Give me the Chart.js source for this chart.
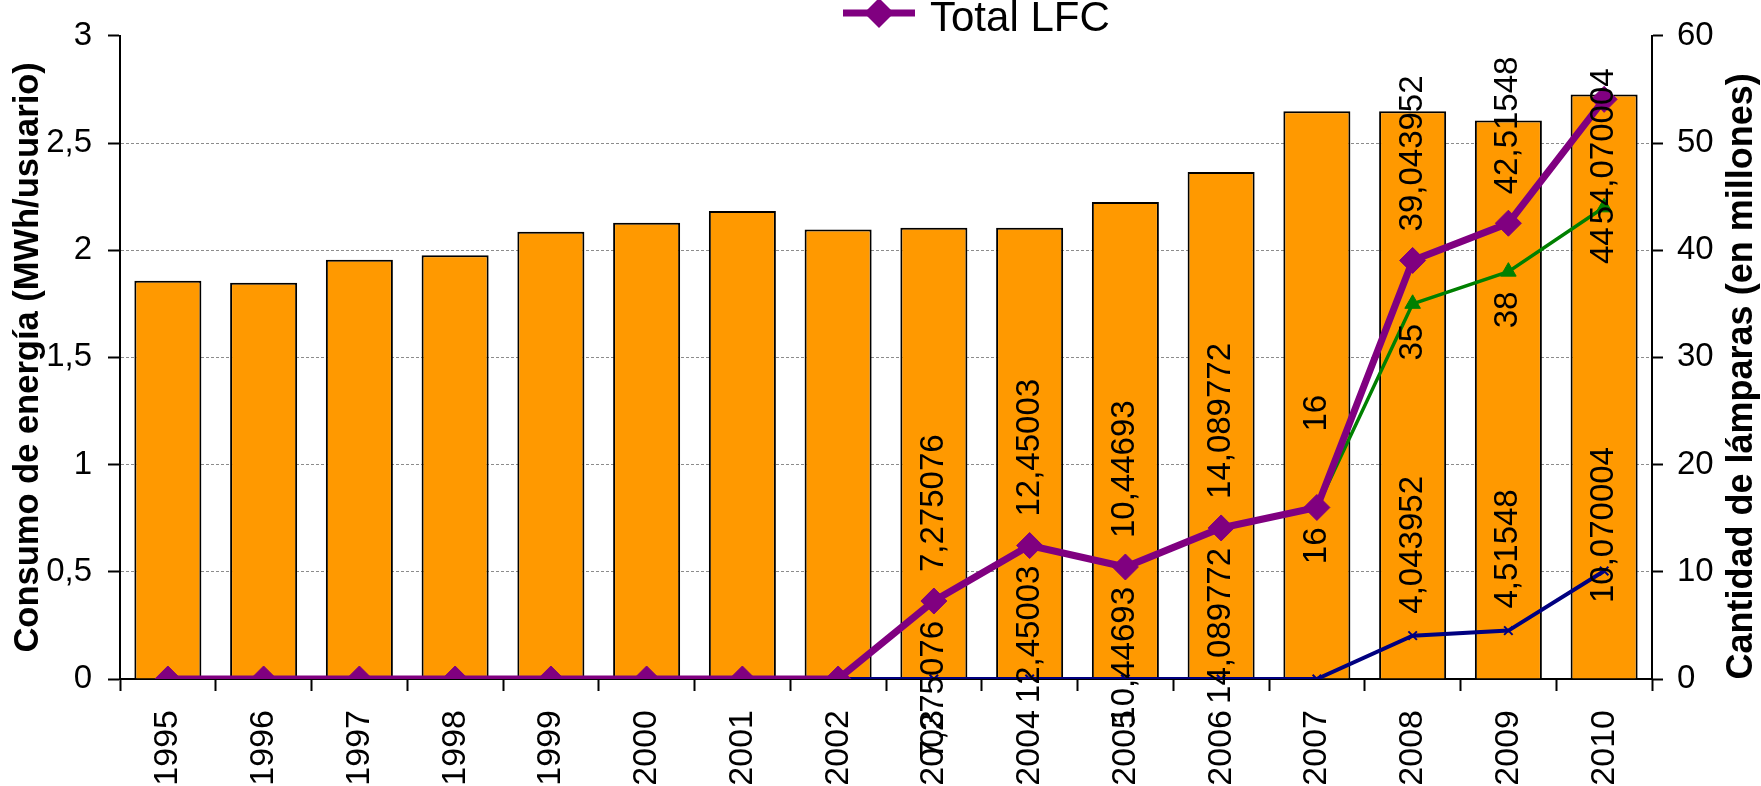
<!DOCTYPE html>
<html lang="es">
<head>
<meta charset="utf-8">
<title>Consumo de energía y lámparas LFC</title>
<script src="https://cdn.jsdelivr.net/npm/chart.js@4.4.1/dist/chart.umd.min.js"></script>
<style>
  html, body { margin: 0; padding: 0; background: #ffffff; }
  canvas { display: block; }
</style>
</head>
<body>
<canvas id="chart" width="1761" height="786"></canvas>
<script>
// Years on the category axis
const years = ['1995', '1996', '1997', '1998', '1999', '2000', '2001', '2002',
               '2003', '2004', '2005', '2006', '2007', '2008', '2009', '2010'];

// Energy consumption per user (MWh/usuario), left axis
const consumoMWh = [1.858, 1.848, 1.956, 1.976, 2.086, 2.128, 2.183, 2.096,
                    2.105, 2.105, 2.225, 2.365, 2.648, 2.648, 2.605, 2.726];

// Compact fluorescent lamps (millions), right axis
const lfcTotal    = [0, 0, 0, 0, 0, 0, 0, 0,
                     7.275076, 12.45003, 10.44693, 14.089772, 16, 39.043952, 42.51548, 54.070004];
const lfcMercado  = [0, 0, 0, 0, 0, 0, 0, 0,
                     7.275076, 12.45003, 10.44693, 14.089772, 16, 35, 38, 44];
const lfcPrograma = [0, 0, 0, 0, 0, 0, 0, 0,
                     0, 0, 0, 0, 0, 4.043952, 4.51548, 10.070004];

// Tick values of both value axes
const consumoTicks  = [0, 0.5, 1, 1.5, 2, 2.5, 3];
const lamparasTicks = [0, 10, 20, 30, 40, 50, 60];

const FONT = '"Liberation Sans", Arial, Helvetica, sans-serif';
Chart.defaults.font.family = FONT;
Chart.defaults.color = '#000000';

// Decimal comma formatting
const fmtES = v => String(v).replace('.', ',');

// Rotated value labels next to the line points
const valueLabels = {
  id: 'valueLabels',
  afterDatasetsDraw(chart, args, opts) {
    const ctx = chart.ctx;
    ctx.save();
    ctx.font = opts.size + 'px ' + FONT;
    ctx.fillStyle = opts.color;
    ctx.textAlign = 'left';
    ctx.textBaseline = 'middle';
    chart.data.datasets.forEach((ds, di) => {
      const cfg = ds.valueLabel;
      if (!cfg) return;
      const meta = chart.getDatasetMeta(di);
      meta.data.forEach((pt, i) => {
        const v = ds.data[i];
        if (!v) return;
        const text = fmtES(v);
        const w = ctx.measureText(text).width;
        let start = cfg.side === 'above' ? pt.y - cfg.gap : pt.y + cfg.gap + w;
        const key = chart.data.labels[i];
        if (cfg.shift && cfg.shift[key]) start += cfg.shift[key];
        ctx.save();
        ctx.translate(pt.x, start);
        ctx.rotate(-Math.PI / 2);
        ctx.fillText(text, 0, 0);
        ctx.restore();
      });
    });
    ctx.restore();
  }
};

// Single legend entry for the total series, plus the right axis title
const decorations = {
  id: 'decorations',
  afterDraw(chart, args, opts) {
    const ctx = chart.ctx;
    const ds = chart.data.datasets[opts.legend.datasetIndex];
    const lg = opts.legend;
    ctx.save();
    // legend line
    ctx.strokeStyle = ds.borderColor;
    ctx.lineWidth = ds.borderWidth;
    ctx.beginPath();
    ctx.moveTo(lg.x, lg.y);
    ctx.lineTo(lg.x + lg.lineLength, lg.y);
    ctx.stroke();
    // legend diamond
    const cx = lg.x + lg.lineLength / 2, r = lg.markerRadius;
    ctx.fillStyle = ds.pointBackgroundColor;
    ctx.beginPath();
    ctx.moveTo(cx, lg.y - r);
    ctx.lineTo(cx + r, lg.y);
    ctx.lineTo(cx, lg.y + r);
    ctx.lineTo(cx - r, lg.y);
    ctx.closePath();
    ctx.fill();
    // legend text
    ctx.fillStyle = '#000000';
    ctx.font = lg.size + 'px ' + FONT;
    ctx.textAlign = 'left';
    ctx.textBaseline = 'alphabetic';
    ctx.fillText(ds.label, lg.x + lg.lineLength + lg.textGap, lg.baseline);

    // right axis title, reading upwards
    const t = opts.rightTitle;
    const area = chart.chartArea;
    ctx.font = 'bold ' + t.size + 'px ' + FONT;
    ctx.textAlign = 'center';
    ctx.textBaseline = 'middle';
    ctx.translate(t.x, (area.top + area.bottom) / 2 + t.dy);
    ctx.rotate(-Math.PI / 2);
    ctx.fillText(t.text, 0, 0);
    ctx.restore();
  }
};

new Chart(document.getElementById('chart'), {
  type: 'bar',
  data: {
    labels: years,
    datasets: [
      {
        type: 'line',
        label: 'Total LFC',
        data: lfcTotal,
        yAxisID: 'y1',
        borderColor: '#800080',
        backgroundColor: '#800080',
        borderWidth: 7,
        pointStyle: 'rectRot',
        pointRadius: 13,
        pointBorderWidth: 1,
        pointBackgroundColor: '#800080',
        pointBorderColor: '#800080',
        tension: 0,
        order: 1,
        valueLabel: { side: 'above', gap: 29, shift: { '2007': -47, '2010': 154 } }
      },
      {
        type: 'line',
        label: 'LFC mercado',
        data: lfcMercado,
        yAxisID: 'y1',
        borderColor: '#008000',
        backgroundColor: '#008000',
        borderWidth: 3.5,
        pointStyle: 'triangle',
        pointRadius: 9,
        pointBorderWidth: 1,
        pointBackgroundColor: '#008000',
        pointBorderColor: '#008000',
        tension: 0,
        order: 2,
        valueLabel: { side: 'below', gap: 20 }
      },
      {
        type: 'line',
        label: 'LFC programa',
        data: lfcPrograma,
        yAxisID: 'y1',
        borderColor: '#000080',
        backgroundColor: '#000080',
        borderWidth: 4,
        pointStyle: 'crossRot',
        pointRadius: 6,
        pointBorderWidth: 2,
        pointBorderColor: '#000080',
        tension: 0,
        order: 3,
        valueLabel: { side: 'above', gap: 22, shift: { '2010': 54 } }
      },
      {
        type: 'bar',
        label: 'Consumo de energía',
        data: consumoMWh,
        yAxisID: 'y',
        backgroundColor: '#FF9900',
        borderColor: '#000000',
        borderWidth: 2,
        barPercentage: 0.7,
        categoryPercentage: 1,
        order: 4
      }
    ]
  },
  options: {
    responsive: false,
    devicePixelRatio: 1,
    animation: false,
    events: [],
    layout: { padding: { top: 24, left: 0, right: 0, bottom: 0 } },
    plugins: {
      legend: { display: false },
      tooltip: { enabled: false },
      valueLabels: { size: 33, color: '#000000' },
      decorations: {
        legend: { datasetIndex: 0, x: 843, y: 13, lineLength: 72, markerRadius: 15,
                  textGap: 15, size: 42, baseline: 31 },
        rightTitle: { text: 'Cantidad de lámparas (en millones)', size: 36, x: 1742, dy: 19 }
      }
    },
    scales: {
      x: {
        offset: true,
        grid: { offset: true, drawOnChartArea: false, tickLength: 12, tickColor: '#000000', tickWidth: 2 },
        border: { color: '#000000', width: 2 },
        ticks: { font: { size: 34 }, color: '#000000', minRotation: 90, maxRotation: 90,
                 autoSkip: false, padding: 19 },
        afterFit: s => { s.height = 107; }
      },
      y: {
        position: 'left',
        min: 0,
        max: 3,
        afterBuildTicks: s => { s.ticks = consumoTicks.map(v => ({ value: v })); },
        grid: {
          color: c => (c.tick && c.tick.value > 0 && c.tick.value < 3) ? '#8c8c8c' : 'rgba(0,0,0,0)',
          lineWidth: 1,
          tickLength: 12,
          tickColor: '#000000',
          tickWidth: 2,
          tickBorderDash: []
        },
        border: { color: '#000000', width: 2, dash: [3, 2] },
        ticks: { font: { size: 33 }, color: '#000000', padding: 16, callback: v => fmtES(v) },
        title: { display: true, text: 'Consumo de energía (MWh/usuario)',
                 font: { size: 34.5, weight: 'bold' }, color: '#000000', padding: { top: 8, bottom: 0 } },
        afterFit: s => { s.width = 120; }
      },
      y1: {
        position: 'right',
        min: 0,
        max: 60,
        afterBuildTicks: s => { s.ticks = lamparasTicks.map(v => ({ value: v })); },
        grid: { drawOnChartArea: false, tickLength: 11, tickColor: '#000000', tickWidth: 2 },
        border: { color: '#000000', width: 2 },
        ticks: { font: { size: 33 }, color: '#000000', padding: 14 },
        afterFit: s => { s.width = 109; }
      }
    }
  },
  plugins: [valueLabels, decorations]
});
</script>
</body>
</html>
